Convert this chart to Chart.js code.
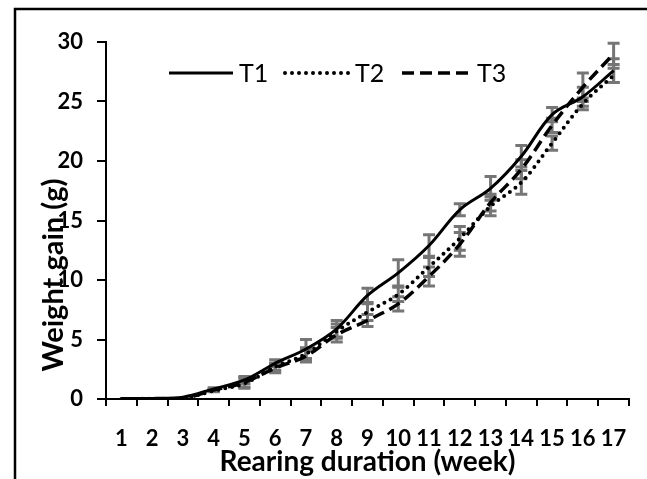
<!DOCTYPE html>
<html>
<head>
<meta charset="utf-8">
<script src="https://cdn.jsdelivr.net/npm/chart.js@4/dist/chart.umd.min.js"></script>
<style>
  html, body { margin: 0; padding: 0; background: #fff; }
  #wrap { width: 647px; height: 479px; }
</style>
</head>
<body>
<div id="wrap"><canvas id="chart" width="647" height="479"></canvas></div>
<script>
const weeks = ['1', '2', '3', '4', '5', '6', '7', '8', '9', '10', '11', '12', '13', '14', '15', '16', '17'];

const t1 = [0.05, 0.05, 0.15, 0.85, 1.6, 3.0, 4.2, 5.9, 8.7, 10.6, 12.9, 15.9, 17.7, 20.4, 23.9, 25.4, 27.6];
const t2 = [0.0, 0.02, 0.05, 0.7, 1.3, 2.7, 3.8, 5.7, 7.3, 8.8, 11.1, 13.5, 16.2, 18.2, 21.5, 24.8, 27.2];
const t3 = [0.0, 0.02, 0.05, 0.75, 1.4, 2.6, 3.6, 5.4, 6.6, 8.0, 10.3, 13.0, 16.5, 19.3, 23.0, 26.2, 29.0];

const t1Err = [0, 0, 0, 0.1, 0.3, 0.3, 0.8, 0.7, 0.6, 1.1, 0.9, 0.5, 1.0, 0.9, 0.6, 0.8, 1.0];
const t2Err = [0, 0, 0, 0.1, 0.4, 0.3, 0.5, 0.6, 0.7, 0.6, 0.8, 1.0, 0.8, 1.0, 0.6, 0.5, 0.6];
const t3Err = [0, 0, 0, 0.1, 0.4, 0.4, 0.5, 0.6, 0.5, 0.6, 0.8, 1.0, 0.7, 0.8, 0.6, 1.2, 0.9];

const yTicks = [0, 5, 10, 15, 20, 25, 30];

const FONT = 'Lato, "DejaVu Sans", sans-serif';

// error bars, drawn under the lines
const errorBars = {
  id: 'errorBars',
  beforeDatasetsDraw(chart) {
    const { ctx, scales: { y } } = chart;
    ctx.save();
    ctx.strokeStyle = '#767676';
    ctx.lineWidth = 3;
    chart.data.datasets.forEach((ds, i) => {
      const meta = chart.getDatasetMeta(i);
      meta.data.forEach((pt, j) => {
        const e = ds.errors[j];
        if (!e) return;
        const top = y.getPixelForValue(ds.data[j] + e);
        const bot = y.getPixelForValue(ds.data[j] - e);
        ctx.beginPath();
        ctx.moveTo(pt.x, top); ctx.lineTo(pt.x, bot);
        ctx.moveTo(pt.x - 6, top); ctx.lineTo(pt.x + 6, top);
        ctx.moveTo(pt.x - 6, bot); ctx.lineTo(pt.x + 6, bot);
        ctx.stroke();
      });
    });
    ctx.restore();
  }
};

// legend inside plot, y title, outer frame
const extras = {
  id: 'extras',
  afterDraw(chart) {
    const ctx = chart.ctx;
    ctx.save();

    // frame (runs off the right and bottom of the picture)
    ctx.strokeStyle = '#000';
    ctx.lineWidth = 2.5;
    ctx.beginPath();
    ctx.moveTo(15, 479);
    ctx.lineTo(15, 9);
    ctx.lineTo(647, 9);
    ctx.stroke();

    // legend
    const spots = [[169, 233, 239], [285, 351, 355], [402, 472, 477]];
    ctx.font = '25px ' + FONT;
    ctx.fillStyle = '#000';
    ctx.textBaseline = 'middle';
    chart.data.datasets.forEach((ds, i) => {
      const [x0, x1, tx] = spots[i];
      ctx.strokeStyle = ds.borderColor;
      ctx.lineWidth = ds.borderWidth;
      ctx.lineCap = ds.borderCapStyle || 'butt';
      ctx.setLineDash(ds.borderDash || []);
      ctx.beginPath();
      ctx.moveTo(x0, 73);
      ctx.lineTo(x1, 73);
      ctx.stroke();
      ctx.setLineDash([]);
      ctx.fillText(ds.label, tx, 74);
    });

    // y axis title
    ctx.translate(63, 275);
    ctx.rotate(-Math.PI / 2);
    ctx.textAlign = 'center';
    ctx.textBaseline = 'alphabetic';
    ctx.font = 'bold 29px ' + FONT;
    ctx.fillText('Weight gain (g)', 0, 0);

    ctx.restore();
  }
};

new Chart(document.getElementById('chart'), {
  type: 'line',
  data: {
    labels: weeks,
    datasets: [
      { label: 'T1', data: t1, errors: t1Err, borderColor: '#000', borderWidth: 3, borderDash: [], borderCapStyle: 'butt' },
      { label: 'T2', data: t2, errors: t2Err, borderColor: '#000', borderWidth: 4, borderDash: [0, 7], borderCapStyle: 'round' },
      { label: 'T3', data: t3, errors: t3Err, borderColor: '#000', borderWidth: 3.5, borderDash: [12, 6], borderCapStyle: 'butt' }
    ]
  },
  options: {
    responsive: false,
    animation: false,
    events: [],
    layout: { padding: { left: 0, top: 42, right: 18, bottom: 0 } },
    elements: {
      point: { radius: 0 },
      line: { tension: 0.35, fill: false }
    },
    plugins: {
      legend: { display: false },
      tooltip: { enabled: false }
    },
    scales: {
      x: {
        offset: true,
        grid: { offset: true, drawOnChartArea: false, color: '#000', lineWidth: 2, tickLength: 7 },
        border: { color: '#000', width: 2 },
        ticks: { color: '#000', font: { family: FONT, size: 22, weight: 'bold' }, padding: 20, maxRotation: 0, autoSkip: false },
        title: { display: true, text: 'Rearing duration (week)', color: '#000', font: { family: FONT, size: 28, weight: 'bold' }, padding: { top: -10, bottom: 0 } },
        afterFit(s) { s.height = 80; }
      },
      y: {
        min: 0,
        max: 30,
        afterBuildTicks(s) { s.ticks = yTicks.map(v => ({ value: v })); },
        grid: { drawOnChartArea: false, color: '#000', lineWidth: 2, tickLength: 9 },
        border: { color: '#000', width: 2 },
        ticks: { color: '#000', font: { family: FONT, size: 22, weight: 'bold' }, padding: 14 },
        afterFit(s) { s.width = 106; }
      }
    }
  },
  plugins: [errorBars, extras]
});
</script>
</body>
</html>
